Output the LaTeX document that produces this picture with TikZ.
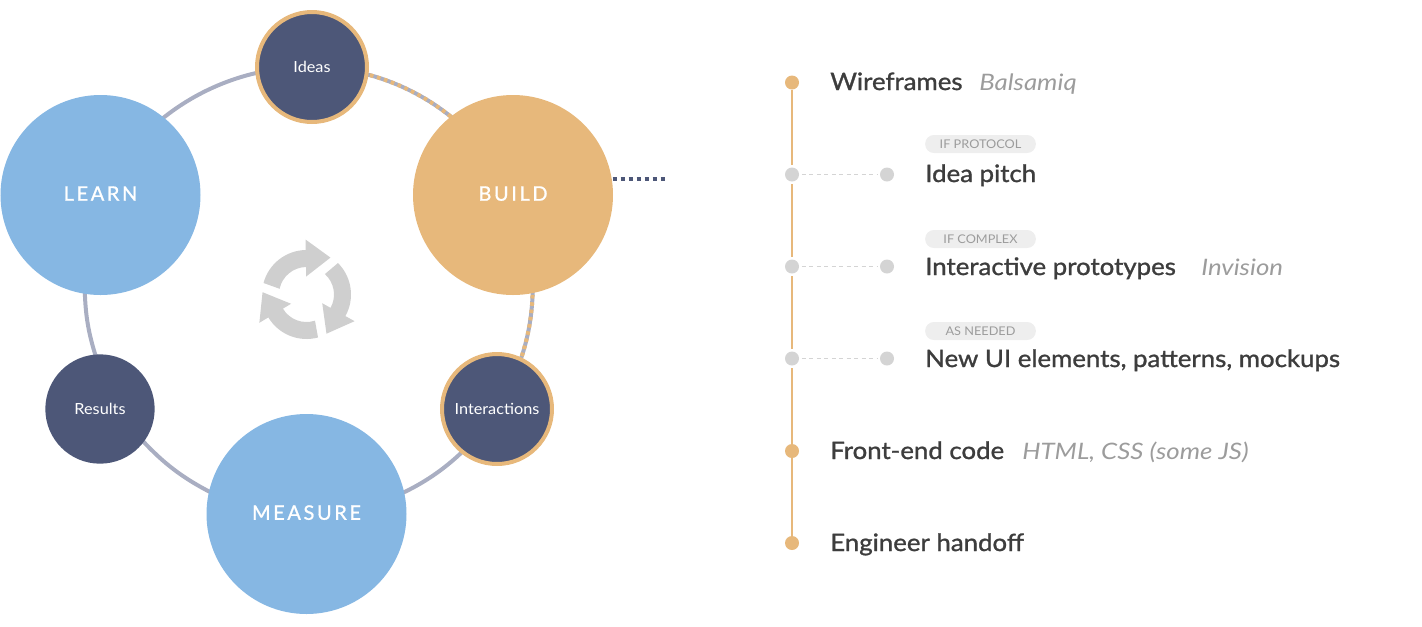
\documentclass[tikz,border=0pt]{standalone}
\usepackage{fontspec}
\usetikzlibrary{backgrounds}
\setmainfont{Lato}
\newfontfamily\capsfont[LetterSpace=13,FakeBold=1]{Lato}
\newfontfamily\medfont[FakeBold=1.2,FakeStretch=1.075]{Lato}
\newfontfamily\toolfont[FakeStretch=1.14,ItalicFont={Lato Italic}]{Lato}
\newfontfamily\smallfont[FakeStretch=1.06]{Lato}
\definecolor{skyblue}{HTML}{86B7E3}
\definecolor{sand}{HTML}{E7B87B}
\definecolor{navy}{HTML}{4D5778}
\definecolor{ringgray}{HTML}{A9AEC2}
\definecolor{dotgray}{HTML}{D4D4D4}
\definecolor{arrowgray}{HTML}{CFCFCF}
\definecolor{titlegray}{HTML}{3D3D3D}
\definecolor{toolgray}{HTML}{9C9C9C}
\definecolor{pillgray}{HTML}{EEEEEE}
\tikzset{
  phase/.style={circle,fill=#1,minimum size=150pt,inner sep=0pt,outer sep=0pt,text=white,text depth=2.2pt,font=\capsfont\fontsize{15}{16}\selectfont},
  stage/.style={circle,fill=navy,minimum size=82.5pt,inner sep=0pt,outer sep=0pt,text=white,font=\smallfont\fontsize{11.5}{13}\selectfont},
  stageon/.style={stage,draw=sand,line width=3pt},
  ring/.style={ringgray,line width=3pt,looseness=0.92},
  ringon/.style={sand,line width=3pt,looseness=0.92,dash pattern=on 2.7pt off 2.8pt},
  stub/.style={ring,shorten >=-2pt,shorten <=-2pt},
  bigdot/.style={circle,fill=sand,minimum size=10.5pt,inner sep=0pt,outer sep=0pt},
  sidedot/.style={circle,fill=dotgray,minimum size=10.5pt,inner sep=0pt,outer sep=2.2pt},
  endot/.style={circle,fill=dotgray,minimum size=10.5pt,inner sep=0pt,outer sep=1.5pt},
  stem/.style={sand,line width=1.5pt},
  branch/.style={dotgray,line width=1.2pt,dash pattern=on 3pt off 2.6pt},
  title/.style={anchor=base west,text=titlegray,inner sep=0pt,font=\medfont\fontsize{18}{20}\selectfont},
  tool/.style={anchor=base west,text=toolgray,inner sep=0pt,font=\toolfont\itshape\fontsize{17}{20}\selectfont},
  pill/.style={rounded corners=6.5pt,fill=pillgray,text=toolgray,minimum width=83pt,minimum height=13.5pt,inner sep=0pt,font=\smallfont\fontsize{9}{10}\selectfont}
}
\begin{document}
\begin{tikzpicture}[x=0.75pt,y=0.75pt,yscale=-1,xscale=1]
\useasboundingbox (0,0) rectangle (1422,626);

% Cycle nodes
\node [phase=skyblue] (learn) at (100.5,195) {LEARN};
\node [phase=sand] (build) at (513,195) {BUILD};
\node [phase=skyblue] (measure) at (306.5,514) {MEASURE};
\node [stageon] (ideas) at (312,67) {Ideas};
\node [stageon] (interactions) at (497,409) {Interactions};
\node [stage,minimum size=82pt] (results) at (100,409) {Results};
\coordinate (buildedge) at (612.7,179.3);
\coordinate (buildtail) at (665,179.3);

% Ring
\begin{pgfonlayer}{background}
\draw [ring] (learn.center) to[bend right=32] (ideas.center);
\draw [ring] (ideas.center) to[bend right=32] (build.center);
\draw [ring] (build.center) to[bend right=28] (interactions.center);
\draw [ring] (interactions.center) to[bend right=29] (measure.center);
\draw [stub] (measure.167) to[bend right=10] (results.-37);
\draw [stub] (results.95) to[bend right=8] (learn.-99);
\draw [ringon] (ideas.center) to[bend right=32] (build.center);
\draw [ringon] (build.center) to[bend right=28] (interactions.center);
\end{pgfonlayer}
\draw [navy,line width=3pt,dash pattern=on 3pt off 3pt] (buildedge) -- (buildtail);

% Recycle arrows
\foreach \a in {0,120,240}
  \fill [arrowgray,shift={(306.5,294.5)},rotate=\a] (-165:44.5) arc[start angle=-165,end angle=-91,radius=44.5] -- (-91:55) -- (-57:44) -- (-91:18) -- (-91:27.5) arc[start angle=-91,end angle=-168,radius=27.5] -- cycle;

% Timeline
\node [bigdot] (wire) at (792,82.5) {};
\node [sidedot] (pitch) at (792,174.5) {};
\node [sidedot] (proto) at (792,266.5) {};
\node [sidedot] (mock) at (792,358.5) {};
\node [bigdot] (code) at (792,451) {};
\node [bigdot] (handoff) at (792,543) {};
\node [endot] (pitchend) at (887,174.5) {};
\node [endot] (protoend) at (887,266.5) {};
\node [endot] (mockend) at (887,358.5) {};

\draw [stem] (wire) -- (pitch);
\draw [stem] (pitch) -- (proto);
\draw [stem] (proto) -- (mock);
\draw [stem] (mock) -- (code);
\draw [stem] (code) -- (handoff);
\draw [branch] (pitch) -- (pitchend);
\draw [branch] (proto) -- (protoend);
\draw [branch] (mock) -- (mockend);

% Text Node
\node [title] (wirelabel) at (830,90) {Wireframes};
\node [tool] (wiretool) at (979,90) {Balsamiq};
\node [pill] (pitchtag) at (980.5,144) {IF PROTOCOL};
\node [title] (pitchlabel) at (925,182) {Idea pitch};
\node [pill] (prototag) at (980.5,239) {IF COMPLEX};
\node [title] (protolabel) at (925,275) {Interactive prototypes};
\node [tool] (prototool) at (1201,275) {Invision};
\node [pill] (mocktag) at (980.5,331) {AS NEEDED};
\node [title] (mocklabel) at (925,367) {New UI elements, patterns, mockups};
\node [title] (codelabel) at (830,459) {Front-end code};
\node [tool] (codetool) at (1022,459) {HTML, CSS (some JS)};
\node [title] (handofflabel) at (830,551) {Engineer handoff};
\end{tikzpicture}
\end{document}
